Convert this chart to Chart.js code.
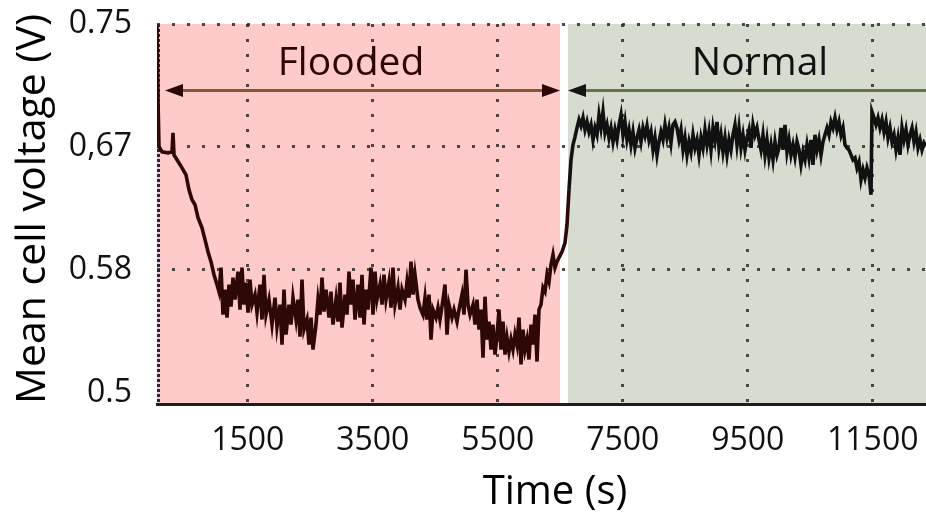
<!DOCTYPE html>
<html>
<head>
<meta charset="utf-8">
<script src="https://cdn.jsdelivr.net/npm/chart.js@4/dist/chart.umd.min.js"></script>
<style>
  html, body { margin: 0; padding: 0; background: #fff; }
  #wrap { width: 926px; height: 515px; }
</style>
</head>
<body>
<div id="wrap"><canvas id="c" width="926" height="515"></canvas></div>
<script>
// Mean cell voltage trace: [time in s, voltage in V]
const cellVoltage = [
  [48,.7486],[64,.6985],[80,.6667],[128,.6633],[224,.6626],[288,.6633],[304,.6762],[320,.6612],[368,.6579],[448,.6524],
  [512,.6477],[560,.6375],[608,.6308],[656,.6274],[704,.6186],[768,.6118],[816,.6037],[864,.5955],[912,.5888],[960,.5799],
  [1008,.5732],[1040,.5684],[1072,.5847],[1104,.5528],[1136,.5698],[1168,.5508],[1200,.5732],[1232,.5583],[1264,.5779],[1296,.5630],
  [1344,.5820],[1376,.5562],[1408,.5847],[1440,.5596],[1472,.5745],[1504,.5542],[1536,.5766],[1568,.5596],[1616,.5664],[1648,.5542],
  [1696,.5732],[1728,.5495],[1760,.5799],[1792,.5528],[1840,.5630],[1888,.5461],[1936,.5643],[1968,.5447],[2016,.5596],[2048,.5325],
  [2080,.5698],[2112,.5393],[2160,.5596],[2192,.5461],[2224,.5643],[2272,.5495],[2304,.5630],[2336,.5379],[2368,.5766],[2400,.5427],
  [2448,.5495],[2480,.5325],[2512,.5508],[2544,.5291],[2592,.5461],[2624,.5630],[2656,.5528],[2688,.5779],[2720,.5549],[2752,.5698],
  [2800,.5508],[2832,.5684],[2864,.5461],[2912,.5630],[2944,.5481],[2976,.5745],[3008,.5440],[3056,.5664],[3088,.5528],[3120,.5820],
  [3152,.5596],[3184,.5766],[3216,.5495],[3264,.5732],[3296,.5508],[3328,.5799],[3360,.5461],[3392,.5698],[3424,.5562],[3472,.5847],
  [3504,.5528],[3536,.5820],[3568,.5630],[3616,.5732],[3648,.5596],[3680,.5799],[3712,.5630],[3760,.5752],[3792,.5576],[3824,.5847],
  [3856,.5596],[3904,.5711],[3936,.5562],[3968,.5698],[4016,.5630],[4048,.5752],[4080,.5643],[4112,.5888],[4144,.5664],[4176,.5799],
  [4224,.5630],[4256,.5576],[4304,.5528],[4336,.5643],[4368,.5495],[4400,.5664],[4432,.5359],[4464,.5562],[4512,.5508],[4544,.5576],
  [4576,.5495],[4624,.5630],[4656,.5732],[4688,.5393],[4720,.5596],[4768,.5508],[4800,.5562],[4848,.5481],[4880,.5562],[4928,.5664],
  [4960,.5528],[4992,.5833],[5024,.5596],[5056,.5528],[5104,.5596],[5136,.5461],[5168,.5630],[5200,.5427],[5232,.5562],[5264,.5237],
  [5296,.5650],[5328,.5359],[5360,.5481],[5392,.5291],[5424,.5461],[5456,.5257],[5488,.5386],[5520,.5562],[5552,.5291],[5584,.5481],
  [5616,.5257],[5648,.5372],[5680,.5278],[5712,.5359],[5744,.5291],[5776,.5393],[5808,.5325],[5840,.5508],[5872,.5190],[5904,.5427],
  [5936,.5291],[5968,.5359],[6000,.5224],[6032,.5461],[6064,.5325],[6096,.5528],[6128,.5210],[6160,.5562],[6192,.5596],[6224,.5711],
  [6256,.5684],[6288,.5799],[6320,.5752],[6352,.5867],[6384,.5935],[6416,.5847],[6448,.5888],[6480,.5915],[6528,.5955],[6576,.6016],
  [6608,.6138],[6640,.6375],[6672,.6579],[6704,.6680],[6736,.6734],
  [6768,.6795],[6800,.6850],[6832,.6809],[6864,.6863],[6896,.6782],[6928,.6836],[6960,.6768],[6992,.6816],[7024,.6714],[7056,.6795],
  [7088,.6748],[7120,.6883],[7152,.6795],[7184,.6904],[7216,.6762],[7248,.6816],[7280,.6728],[7312,.6795],[7344,.6701],[7376,.6782],
  [7408,.6714],[7440,.6816],[7472,.6883],[7504,.6748],[7536,.6836],[7568,.6714],[7600,.6782],[7632,.6680],[7664,.6768],[7696,.6660],
  [7728,.6728],[7760,.6782],[7792,.6701],[7824,.6795],[7856,.6741],[7888,.6809],[7920,.6714],[7952,.6768],[7984,.6646],[8016,.6728],
  [8048,.6612],[8080,.6701],[8112,.6768],[8144,.6714],[8176,.6816],[8208,.6728],[8240,.6795],[8272,.6694],[8304,.6816],[8336,.6836],
  [8368,.6795],[8400,.6714],[8432,.6782],[8464,.6646],[8496,.6728],[8528,.6612],[8560,.6701],[8592,.6633],[8624,.6748],[8656,.6660],
  [8688,.6714],[8720,.6612],[8752,.6728],[8784,.6660],[8816,.6782],[8848,.6680],[8880,.6768],[8912,.6646],[8944,.6795],[8976,.6714],
  [9008,.6836],[9040,.6660],[9072,.6748],[9104,.6633],[9136,.6728],[9168,.6612],[9200,.6714],[9232,.6646],[9264,.6748],[9296,.6816],
  [9328,.6680],[9360,.6795],[9392,.6660],[9424,.6748],[9456,.6646],[9488,.6728],[9520,.6782],[9552,.6660],[9584,.6816],[9616,.6748],
  [9648,.6795],[9680,.6714],[9712,.6646],[9744,.6748],[9776,.6612],[9808,.6714],[9840,.6592],[9872,.6680],[9904,.6579],[9936,.6701],
  [9968,.6612],[10000,.6660],[10032,.6795],[10064,.6646],[10096,.6816],[10128,.6633],[10160,.6714],[10192,.6612],[10224,.6680],[10256,.6599],
  [10288,.6701],[10320,.6646],[10352,.6545],[10384,.6633],[10416,.6579],[10448,.6680],[10480,.6592],[10512,.6714],[10544,.6545],[10576,.6748],
  [10608,.6646],[10640,.6714],[10672,.6612],[10704,.6701],[10736,.6748],[10768,.6795],[10800,.6748],[10832,.6836],[10864,.6795],[10896,.6863],
  [10928,.6782],[10960,.6836],[10992,.6748],[11024,.6795],[11056,.6680],[11088,.6660],[11120,.6646],[11152,.6612],[11184,.6579],[11216,.6592],
  [11248,.6524],[11280,.6565],[11312,.6443],[11344,.6511],[11376,.6457],[11408,.6524],[11440,.6477],[11472,.6341],[11488,.6904],[11520,.6863],
  [11552,.6816],[11584,.6863],[11616,.6795],[11648,.6850],[11680,.6768],[11712,.6836],[11744,.6728],[11776,.6795],[11808,.6701],[11840,.6748],
  [11872,.6646],[11904,.6728],[11936,.6612],[11968,.6795],[12000,.6714],[12032,.6782],[12064,.6680],[12096,.6748],[12128,.6795],[12160,.6701],
  [12192,.6768],[12224,.6660],[12256,.6714],[12288,.6646],[12320,.6694],[12352,.6673]
];

// Axis ticks
const xTicks = [1500, 3500, 5500, 7500, 9500, 11500];
const yTicks = [0.5, 0.5833, 0.6667, 0.75];
const yTickLabels = ['0.5', '0.58', '0,67', '0.75'];

// Operating phases (time spans in s)
const phaseNames = ['Flooded', 'Normal'];
const phaseStart = [48, 6624];
const phaseEnd = [6496, 12352];

const FONT = "'Open Sans', 'DejaVu Sans', sans-serif";
const gridDots = 'rgba(48,44,48,0.85)';

function arrowHead(ctx, x, y, dir) {
  ctx.beginPath();
  ctx.moveTo(x, y);
  ctx.lineTo(x - dir * 18, y - 6.5);
  ctx.lineTo(x - dir * 18, y + 6.5);
  ctx.closePath();
  ctx.fill();
}

const decorations = {
  id: 'decorations',
  beforeDraw(chart) {
    const { ctx, chartArea: a, scales: { x } } = chart;
    ctx.save();
    ctx.fillStyle = '#ffffff';
    ctx.fillRect(0, 0, chart.width, chart.height);
    const fills = ['#ffcaca', '#d6ddd0'];
    phaseStart.forEach((s, i) => {
      const l = Math.max(x.getPixelForValue(s), a.left);
      const r = Math.min(x.getPixelForValue(phaseEnd[i]), a.right);
      ctx.fillStyle = fills[i];
      ctx.fillRect(l, a.top, r - l, a.bottom - a.top);
    });
    ctx.restore();
  },
  beforeDatasetsDraw(chart) {
    const { ctx, chartArea: a, scales: { x, y } } = chart;
    ctx.save();
    // dotted left axis
    ctx.strokeStyle = '#22264a';
    ctx.lineWidth = 3;
    ctx.setLineDash([3, 2]);
    ctx.beginPath();
    ctx.moveTo(a.left + 1.5, a.top);
    ctx.lineTo(a.left + 1.5, a.bottom);
    ctx.stroke();
    ctx.setLineDash([]);

    // phase arrows
    const ay = Math.round(y.getPixelForValue(0.7053)) + 0.5;
    const fL = x.getPixelForValue(176), fR = x.getPixelForValue(phaseEnd[0]);
    ctx.strokeStyle = '#7d5d30';
    ctx.lineWidth = 3;
    ctx.beginPath(); ctx.moveTo(fL + 10, ay); ctx.lineTo(fR - 10, ay); ctx.stroke();
    ctx.fillStyle = '#2c0606';
    arrowHead(ctx, fL, ay, -1);
    arrowHead(ctx, fR, ay, 1);

    const nL = x.getPixelForValue(phaseStart[1]);
    ctx.strokeStyle = '#66734a';
    ctx.beginPath(); ctx.moveTo(nL + 10, ay); ctx.lineTo(a.right, ay); ctx.stroke();
    ctx.fillStyle = '#151515';
    arrowHead(ctx, nL, ay, -1);

    // phase names
    ctx.font = '39px ' + FONT;
    ctx.textAlign = 'center';
    ctx.textBaseline = 'alphabetic';
    const ly = y.getPixelForValue(0.7154);
    ctx.fillStyle = '#2c0505';
    ctx.fillText(phaseNames[0], x.getPixelForValue(3152), ly);
    ctx.fillStyle = '#111111';
    ctx.fillText(phaseNames[1], x.getPixelForValue(9696), ly);
    ctx.restore();
  },
  afterDraw(chart) {
    const { ctx } = chart;
    ctx.save();
    ctx.fillStyle = '#000';
    ctx.textAlign = 'center';
    ctx.textBaseline = 'alphabetic';
    ctx.font = '40px ' + FONT;
    ctx.fillText('Time (s)', 555, 504);
    ctx.translate(45, 209);
    ctx.rotate(-Math.PI / 2);
    ctx.font = '41px ' + FONT;
    ctx.fillText('Mean cell voltage (V)', 0, 0);
    ctx.restore();
  }
};

function draw() {
  new Chart(document.getElementById('c'), {
    type: 'line',
    data: {
      datasets: [{
        data: cellVoltage.map(([t, v]) => ({ x: t, y: v })),
        borderColor: '#111111',
        borderWidth: 3.6,
        pointRadius: 0,
        tension: 0,
        segment: {
          borderColor: c => (c.p0.parsed.x < phaseStart[1] ? '#2e0707' : '#111111')
        }
      }]
    },
    options: {
      responsive: false,
      animation: false,
      layout: { padding: { top: 24, left: 0, right: 0, bottom: 0 } },
      plugins: { legend: { display: false }, tooltip: { enabled: false } },
      scales: {
        x: {
          type: 'linear',
          min: 48,
          max: 12352,
          afterFit: s => { s.height = 111; s.paddingLeft = 0; s.paddingRight = 0; },
          afterBuildTicks: s => { s.ticks = xTicks.map(v => ({ value: v })); },
          ticks: {
            autoSkip: false, maxRotation: 0, padding: 18, color: '#111',
            font: { family: FONT, size: 32 },
            callback: v => String(v)
          },
          grid: { color: gridDots, lineWidth: 3, drawTicks: false },
          border: { display: true, color: '#1d1d1d', width: 3, dash: [3, 12] }
        },
        y: {
          min: 0.4922,
          max: 0.75,
          afterFit: s => { s.width = 157; s.paddingTop = 0; s.paddingBottom = 0; },
          afterBuildTicks: s => { s.ticks = yTicks.map(v => ({ value: v })); },
          ticks: {
            padding: 25, color: '#111',
            font: { family: FONT, size: 32 },
            callback: (v, i) => yTickLabels[i]
          },
          grid: {
            color: c => (c.tick && c.tick.value === 0.5 ? 'rgba(0,0,0,0)' : gridDots),
            lineWidth: 3, drawTicks: false
          },
          border: { display: false, dash: [3, 12] }
        }
      }
    },
    plugins: [decorations]
  });
}

if (document.fonts && document.fonts.load) {
  Promise.all([
    document.fonts.load("32px 'Open Sans'"),
    document.fonts.load("40px 'Open Sans'")
  ]).then(draw, draw);
} else {
  draw();
}
</script>
</body>
</html>
